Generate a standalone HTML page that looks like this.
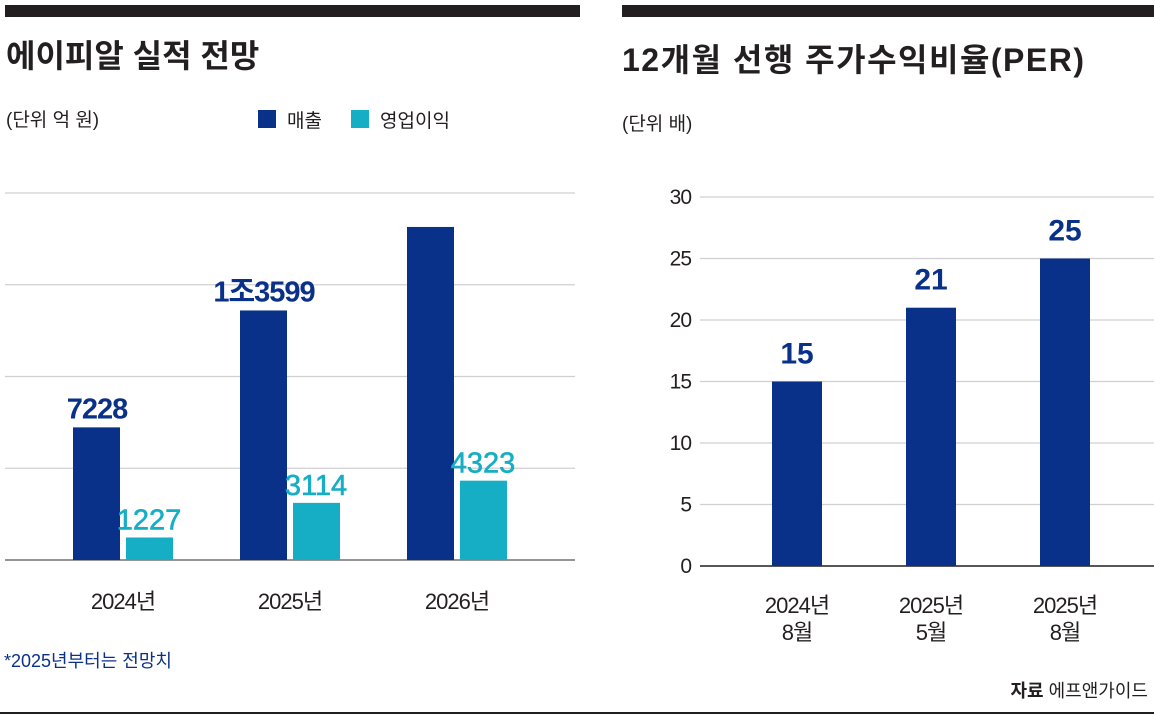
<!DOCTYPE html>
<html><head><meta charset="utf-8"><style>
body{margin:0;width:1154px;height:717px;background:#fff;overflow:hidden;font-family:"Liberation Sans","Noto Sans CJK KR",sans-serif}
svg text{font-family:"Liberation Sans","Noto Sans CJK KR",sans-serif}
</style></head><body>
<svg width="1154" height="717">
<rect x="5" y="5" width="575" height="12" fill="#231f20"/>
<rect x="622" y="5" width="532" height="12" fill="#231f20"/>
<text x="6" y="67" font-size="32" font-weight="bold" fill="#231f20">에이피알 실적 전망</text>
<text x="622" y="71" font-size="32" font-weight="bold" fill="#231f20" textLength="462">12개월 선행 주가수익비율(PER)</text>
<text x="6" y="126" font-size="19" fill="#231f20">(단위 억 원)</text>
<text x="622" y="130" font-size="19" fill="#231f20">(단위 배)</text>
<rect x="258" y="110" width="18" height="18" fill="#0a318a"/>
<text x="287" y="127" font-size="19" fill="#231f20">매출</text>
<rect x="351" y="110" width="18" height="18" fill="#16aec4"/>
<text x="380" y="127" font-size="19" fill="#231f20">영업이익</text>
<g id="left"></g><g id="right"></g>
<text x="4" y="667" font-size="18" fill="#0a318a">*2025년부터는 전망치</text>
<text x="1148" y="697" font-size="18" fill="#231f20" text-anchor="end"><tspan font-weight="bold">자료</tspan> 에프앤가이드</text>
<rect x="0" y="712" width="1154" height="2" fill="#231f20"/>
</svg>
<script>
const NS="http://www.w3.org/2000/svg";
const years=["2024년","2025년","2026년"];
const sales=[7228,13599,18150];
const salesLabels=["7228","1조3599",""];
const opProfit=[1227,3114,4323];
const opLabels=["1227","3114","4323"];
const leftGrid=[5000,10000,15000,20000];
const perCats=[["2024년","8월"],["2025년","5월"],["2025년","8월"]];
const perVals=[15,21,25];
const perTicks=[0,5,10,15,20,25,30];
function mk(p,t,a){const e=document.createElementNS(NS,t);for(const k in a)e.setAttribute(k,a[k]);p.appendChild(e);return e;}
const L=document.getElementById('left'),R=document.getElementById('right');
const ly=v=>560-v*0.01835, lx=i=>123+i*167;
leftGrid.forEach(g=>{const l=mk(L,'line',{x1:5,x2:575,y1:ly(g),y2:ly(g),stroke:'#d0d0d0','stroke-width':1.2});

});
const lb=mk(L,'line',{x1:5,x2:575,y1:560,y2:560,stroke:'#555','stroke-width':1.2});


years.forEach((y,i)=>{
 const c=lx(i);
 const b1=mk(L,'rect',{x:c-50,y:ly(sales[i]),width:47,height:560-ly(sales[i]),fill:'#0a318a'});
 
 
 const b2=mk(L,'rect',{x:c+3,y:ly(opProfit[i]),width:47,height:560-ly(opProfit[i]),fill:'#16aec4'});
 
 
 if(salesLabels[i]){const t=mk(L,'text',{x:c-26,y:ly(sales[i])-9,'font-size':29,'font-weight':'bold',fill:'#0a318a','text-anchor':'middle','letter-spacing':'-1'});t.textContent=salesLabels[i];
 
 }
 const t2=mk(L,'text',{x:c+26,y:ly(opProfit[i])-8,'font-size':29,fill:'#16aec4','text-anchor':'middle','stroke':'#16aec4','stroke-width':0.6});t2.textContent=opLabels[i];
 
 
 const xl=mk(L,'text',{x:c,y:609,'font-size':22,fill:'#231f20','text-anchor':'middle','letter-spacing':'-1'});xl.textContent=y;
 
 
});
const ry=v=>566-v*12.3, rx=i=>797+i*134;
perTicks.forEach(v=>{
 if(v>0){const l=mk(R,'line',{x1:700,x2:1154,y1:ry(v),y2:ry(v),stroke:'#d0d0d0','stroke-width':1.2});
 
 }
 const t=mk(R,'text',{x:691,y:ry(v)+7,'font-size':21,fill:'#231f20','text-anchor':'end','letter-spacing':'-1'});t.textContent=v;
 
 
});
const rb=mk(R,'line',{x1:700,x2:1154,y1:566,y2:566,stroke:'#231f20','stroke-width':1.5});


perVals.forEach((v,i)=>{
 const c=rx(i);
 const b=mk(R,'rect',{x:c-25,y:ry(v),width:50,height:566-ry(v),fill:'#0a318a'});
 
 
 const t=mk(R,'text',{x:c,y:ry(v)-18,'font-size':30,'font-weight':'bold',fill:'#0a318a','text-anchor':'middle'});t.textContent=v;
 
 
 perCats[i].forEach((s,j)=>{const x=mk(R,'text',{x:c,y:613+j*27,'font-size':22,fill:'#231f20','text-anchor':'middle','letter-spacing':'-1'});x.textContent=s;
 
 });
});
</script>
</body></html>
